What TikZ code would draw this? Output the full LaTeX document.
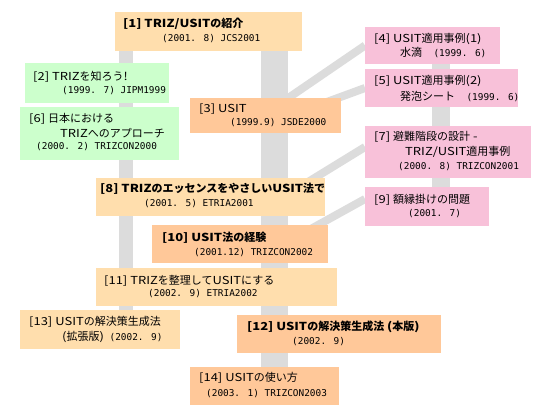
\documentclass[tikz,border=0pt]{standalone}
\usepackage{fontspec}
\setmainfont{Noto Sans CJK JP}
\newfontfamily\monof{DejaVu Sans Mono}
\newfontfamily\widef[FakeStretch=1.18]{Noto Sans CJK JP}
\usetikzlibrary{calc,fit}
\pgfdeclarelayer{paper}
\pgfdeclarelayer{bg}
\pgfsetlayers{paper,bg,main}
\definecolor{cLt}{HTML}{FFDEAD}
\definecolor{cPe}{HTML}{FFC899}
\definecolor{cGr}{HTML}{CCFFCC}
\definecolor{cPk}{HTML}{F8C1D9}
\definecolor{cBar}{HTML}{DCDCDC}
\newcommand\hw[1]{{\widef #1}}
\newcommand\dn[1]{{\monof\fontsize{9.4}{11}\selectfont #1}}
\tikzset{
  boxst/.style={inner sep=0pt, outer sep=0pt, draw=none, fill=#1},
  ttl/.style={anchor=west, inner sep=0pt, font=\fontsize{11}{13}\selectfont},
  btl/.style={anchor=west, inner sep=0pt, font=\fontsize{11}{13}\selectfont\bfseries},
  dt/.style={anchor=west, inner sep=0pt, font=\monof\fontsize{9.4}{11}\selectfont},
  band/.style={draw=cBar, line width=8pt},
  vbar/.style={draw=cBar, line width=#1},
}
\begin{document}
\begin{tikzpicture}[x=1pt,y=-1pt]
\begin{pgfonlayer}{paper}
\useasboundingbox[fill=white] (0,0) rectangle (545,418);
\end{pgfonlayer}
\coordinate (lbx) at (126,0);
\coordinate (rbx) at (274.5,0);
\coordinate (pbx) at (441,0);
% boxes
\node[boxst=cLt, fit={(115,12) (302,51)}] (b1) {};
\node[boxst=cGr, fit={(25,63) (169,103)}] (b2) {};
\node[boxst=cGr, fit={(20,107) (179,160)}] (b6) {};
\node[boxst=cPe, fit={(190,98) (341,133)}] (b3) {};
\node[boxst=cPk, fit={(365,27) (500,64)}] (b4) {};
\node[boxst=cPk, fit={(365,69) (518,107)}] (b5) {};
\node[boxst=cPk, fit={(365,126) (531,178)}] (b7) {};
\node[boxst=cPk, fit={(365,187) (489,226)}] (b9) {};
\node[boxst=cLt, fit={(96,178) (325,216)}] (b8) {};
\node[boxst=cPe, fit={(152,225) (328,263)}] (b10) {};
\node[boxst=cLt, fit={(96,268) (337,306)}] (b11) {};
\node[boxst=cLt, fit={(20,310) (180,349)}] (b13) {};
\node[boxst=cPe, fit={(237,315) (441,353)}] (b12) {};
\node[boxst=cPe, fit={(190,367) (339,405)}] (b14) {};
% texts
\node[btl] (t1a) at (123,24) {\hw{[1] TRIZ/USIT}の紹介};
\node[dt] (t1b) at (162,39) {(2001. 8) JCS2001};
\node[ttl] (t2a) at (33,77) {\hw{[2] TRIZ}を知ろう\hw{!}};
\node[dt] (t2b) at (62,91) {(1999. 7) JIPM1999};
\node[ttl] (t6a) at (29,119) {\hw{[6] }日本における};
\node[ttl] (t6b) at (60,133) {\hw{TRIZ}へのアプローチ};
\node[dt] (t6c) at (36,147) {(2000. 2) TRIZCON2000};
\node[ttl] (t3a) at (199,109) {\hw{[3] USIT}};
\node[dt] (t3b) at (230,123) {(1999.9) JSDE2000};
\node[ttl] (t4a) at (374,39) {\hw{[4] USIT}適用事例\hw{(1)}};
\node[ttl] (t4b) at (400,53) {水滴\dn{\ \ (1999. 6)}};
\node[ttl] (t5a) at (374,81) {\hw{[5] USIT}適用事例\hw{(2)}};
\node[ttl] (t5b) at (400,96) {発泡シート\dn{\ \ (1999. 6)}};
\node[ttl] (t7a) at (374,137) {\hw{[7] }避難階段の設計\hw{ -}};
\node[ttl] (t7b) at (405,152) {\hw{TRIZ/USIT}適用事例};
\node[dt] (t7c) at (398,167) {(2000. 8) TRIZCON2001};
\node[ttl] (t9a) at (374,200) {\hw{[9] }額縁掛けの問題};
\node[dt] (t9b) at (408,214) {(2001. 7)};
\node[btl] (t8a) at (100,189) {\hw{[8] TRIZ}のエッセンスをやさしい\hw{USIT}法で};
\node[dt] (t8b) at (144,204) {(2001. 5) ETRIA2001};
\node[btl] (t10a) at (162,238) {\hw{[10] USIT}法の経験};
\node[dt] (t10b) at (194,253) {(2001.12) TRIZCON2002};
\node[ttl] (t11a) at (104,281) {\hw{[11] TRIZ}を整理して\hw{USIT}にする};
\node[dt] (t11b) at (148,294) {(2002. 9) ETRIA2002};
\node[ttl] (t13a) at (29,322) {\hw{[13] USIT}の解決策生成法};
\node[ttl] (t13b) at (62,337) {\hw{(}拡張版\hw{)}\dn{ (2002. 9)}};
\node[btl] (t12a) at (247,327) {\hw{[12] USIT}の解決策生成法\hw{\ (}本版\hw{)}};
\node[dt] (t12b) at (292,342) {(2002. 9)};
\node[ttl] (t14a) at (199,378) {\hw{[14] USIT}の使い方};
\node[dt] (t14b) at (206,394) {(2003. 1) TRIZCON2003};
% connectors behind
\begin{pgfonlayer}{bg}
\draw[vbar=14pt] (lbx |- b1.south) -- (lbx |- b13.north);
\draw[vbar=27pt] (rbx |- b1.south) -- (rbx |- b14.north);
\draw[vbar=18pt] (pbx |- b4.south) -- (pbx |- b9.north);
\draw[band] (b4.west) -- ($(b3.north)+(14,6)$);
\draw[band] (b5.west) -- ($(b3.north)+(45,10)$);
\draw[band] ([yshift=5pt]b7.west) -- ($(b8.north east)+(-30,12)$);
\draw[band] ([yshift=7.5pt]b9.west) -- ($(b10.north east)+(-28,10)$);
\end{pgfonlayer}
\end{tikzpicture}
\end{document}
